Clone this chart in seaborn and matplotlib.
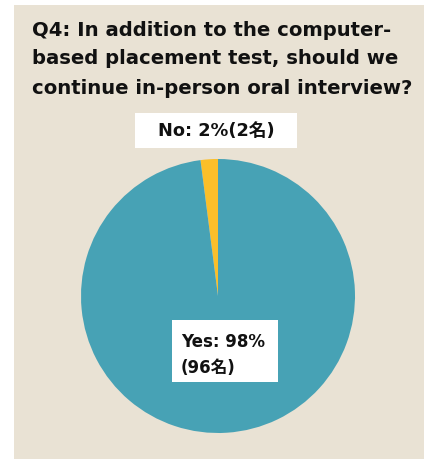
import matplotlib
matplotlib.use("Agg")
import matplotlib.pyplot as plt
from matplotlib.patches import Rectangle
import seaborn as sns

# Survey responses (head counts) and their labels
answers = ["No", "Yes"]
counts = [2, 96]
percent_labels = ["2%", "98%"]
title_lines = [
    "Q4: In addition to the computer-",
    "based placement test, should we",
    "continue in-person oral interview?",
]

sns.set_theme(style="white")
plt.rcParams["font.family"] = ["DejaVu Sans", "Noto Sans CJK JP"]

panel_color = "#E9E2D4"
palette = ["#FBBF2A", "#47A2B5"]

W, H = 424, 459
fig = plt.figure(figsize=(W / 100, H / 100), dpi=100)
fig.patch.set_facecolor("white")

# beige card behind everything
fig.patches.append(Rectangle((14 / W, 0), 1 - 14 / W, (H - 5) / H,
                             transform=fig.transFigure, facecolor=panel_color,
                             edgecolor="none", zorder=-5))

# title, left aligned, three lines
for i, line in enumerate(title_lines):
    fig.text(32 / W, 1 - (30 + i * 29) / H, line, ha="left", va="center",
             fontsize=14.1, fontweight="bold", color="#111111")

# pie
cx, cy, r = 218, 296, 137
ax = fig.add_axes([(cx - r) / W, (H - cy - r) / H, 2 * r / W, 2 * r / H])
ax.set_zorder(1)
ax.pie(counts, colors=palette, startangle=90, counterclock=True,
       wedgeprops=dict(linewidth=0))
ax.set_xlim(-1, 1)
ax.set_ylim(-1, 1)
ax.set_aspect("equal")
ax.axis("off")

label_font = ["DejaVu Sans", "Noto Sans CJK JP"]

# "No" label box above the pie
fig.patches.append(Rectangle((135 / W, 1 - 148 / H), 162 / W, 35 / H,
                             transform=fig.transFigure, facecolor="white",
                             edgecolor="none", zorder=5))
fig.text(216 / W, 1 - 131 / H, f"{answers[0]}: {percent_labels[0]}({counts[0]}名)",
         ha="center", va="center", fontsize=12.8, fontweight="bold",
         family=label_font, color="#111111", zorder=6)

# "Yes" label box inside the pie
fig.patches.append(Rectangle((172 / W, 1 - 382 / H), 106 / W, 62 / H,
                             transform=fig.transFigure, facecolor="white",
                             edgecolor="none", zorder=5))
fig.text(181 / W, 1 - 342 / H, f"{answers[1]}: {percent_labels[1]}",
         ha="left", va="center", fontsize=12, fontweight="bold",
         family=label_font, color="#111111", zorder=6)
fig.text(181 / W, 1 - 368 / H, f"({counts[1]}名)",
         ha="left", va="center", fontsize=12, fontweight="bold",
         family=label_font, color="#111111", zorder=6)

fig.savefig("out.png", dpi=100, facecolor=fig.get_facecolor())
